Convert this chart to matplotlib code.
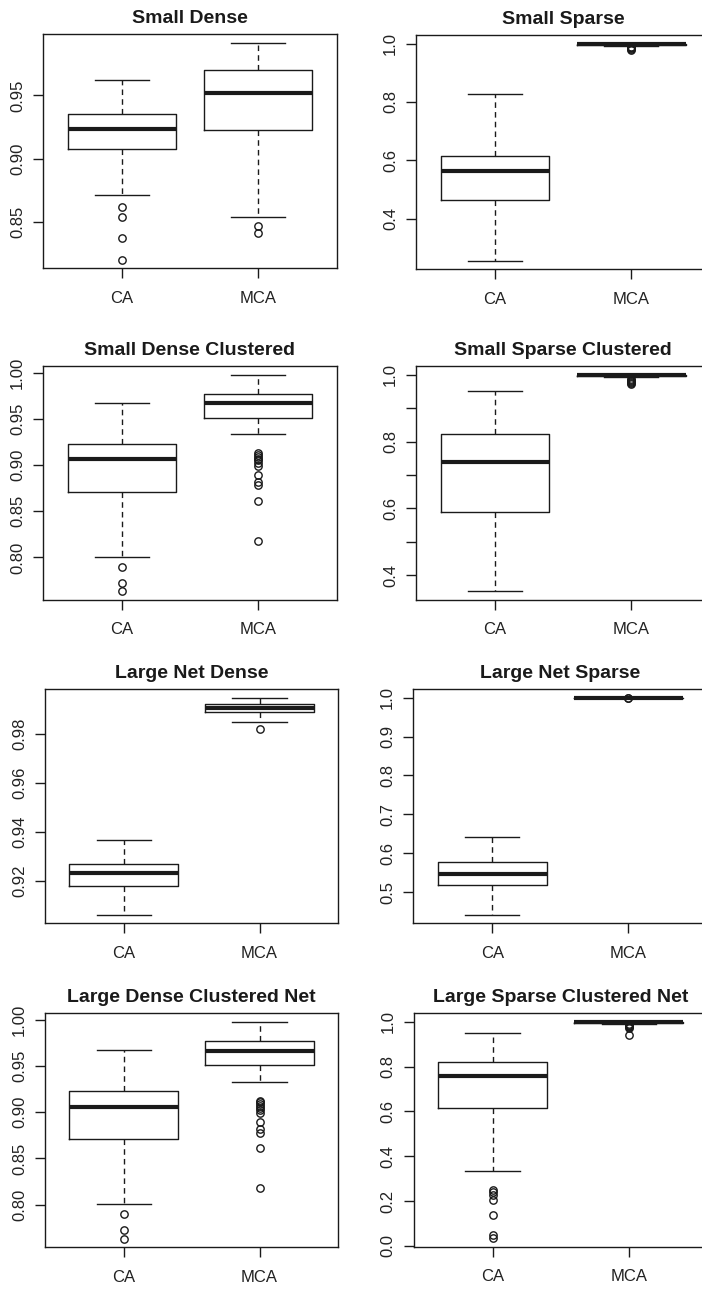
import matplotlib
matplotlib.use("Agg")
import matplotlib.pyplot as plt

plt.rcParams['font.family'] = ['Liberation Sans', 'DejaVu Sans']

W, H = 702, 1289

groups = ["CA", "MCA"]

titles = ["Small Dense", "Small Sparse",
          "Small Dense Clustered", "Small Sparse Clustered",
          "Large Net Dense", "Large Net Sparse",
          "Large Dense Clustered Net", "Large Sparse Clustered Net"]

# five-number summaries: [lower whisker, Q1, median, Q3, upper whisker]
sd_ca = [0.8718, 0.9075, 0.9238, 0.9354, 0.9618]
sd_ca_out = [0.8621, 0.8543, 0.8374, 0.8206]
sd_mca = [0.8545, 0.9230, 0.9516, 0.9697, 0.9913]
sd_mca_out = [0.8473, 0.8418]

ss_ca = [0.2560, 0.4628, 0.5622, 0.6147, 0.8273]
ss_ca_out = []
ss_mca = [0.993, 0.997, 1.0, 1.0, 1.0]
ss_mca_out = [0.990, 0.987, 0.985, 0.982, 0.980]

sdc_ca = [0.8007, 0.8709, 0.9061, 0.9227, 0.9669]
sdc_ca_out = [0.7896, 0.7727, 0.7633]
sdc_mca = [0.9331, 0.9510, 0.9666, 0.9769, 0.9978]
sdc_mca_out = [0.9125, 0.9110, 0.9090, 0.9070, 0.9050, 0.9020, 0.8990,
               0.8889, 0.8820, 0.8780, 0.8612, 0.8180]

ssc_ca = [0.3520, 0.5896, 0.7395, 0.8230, 0.9511]
ssc_ca_out = []
ssc_mca = [0.993, 0.995, 0.999, 1.0, 1.0]
ssc_mca_out = [0.988, 0.985, 0.982, 0.979, 0.976, 0.973]

lnd_ca = [0.9061, 0.9177, 0.9229, 0.9269, 0.9367]
lnd_ca_out = []
lnd_mca = [0.9846, 0.9887, 0.9905, 0.9922, 0.9947]
lnd_mca_out = [0.9819]

lns_ca = [0.4422, 0.5185, 0.5468, 0.5766, 0.6410]
lns_ca_out = []
lns_mca = [1.0, 0.9999, 1.0, 1.0, 1.0]
lns_mca_out = [0.9995, 0.9993]

ldc_ca = [0.8007, 0.8709, 0.9061, 0.9227, 0.9669]
ldc_ca_out = [0.7896, 0.7727, 0.7633]
ldc_mca = [0.9331, 0.9510, 0.9666, 0.9769, 0.9978]
ldc_mca_out = [0.9125, 0.9110, 0.9090, 0.9070, 0.9050, 0.9020, 0.8990,
               0.8889, 0.8820, 0.8780, 0.8612, 0.8180]

lsc_ca = [0.3330, 0.6140, 0.7580, 0.8217, 0.9496]
lsc_ca_out = [0.2497, 0.2390, 0.2250, 0.2050, 0.1380, 0.0500, 0.0340]
lsc_mca = [0.990, 0.996, 0.999, 1.0, 1.0]
lsc_mca_out = [0.988, 0.985, 0.982, 0.979, 0.976, 0.972, 0.942]

panel_stats = [(sd_ca, sd_ca_out, sd_mca, sd_mca_out),
               (ss_ca, ss_ca_out, ss_mca, ss_mca_out),
               (sdc_ca, sdc_ca_out, sdc_mca, sdc_mca_out),
               (ssc_ca, ssc_ca_out, ssc_mca, ssc_mca_out),
               (lnd_ca, lnd_ca_out, lnd_mca, lnd_mca_out),
               (lns_ca, lns_ca_out, lns_mca, lns_mca_out),
               (ldc_ca, ldc_ca_out, ldc_mca, ldc_mca_out),
               (lsc_ca, lsc_ca_out, lsc_mca, lsc_mca_out)]

# y tick positions and labels
yticks = [[0.85, 0.90, 0.95],
          [0.4, 0.6, 0.8, 1.0],
          [0.80, 0.85, 0.90, 0.95, 1.00],
          [0.4, 0.5, 0.6, 0.7, 0.8, 0.9, 1.0],
          [0.92, 0.94, 0.96, 0.98],
          [0.5, 0.6, 0.7, 0.8, 0.9, 1.0],
          [0.80, 0.85, 0.90, 0.95, 1.00],
          [0.0, 0.2, 0.4, 0.6, 0.8, 1.0]]
yticklabels = [["0.85", "0.90", "0.95"],
               ["0.4", "0.6", "0.8", "1.0"],
               ["0.80", "0.85", "0.90", "0.95", "1.00"],
               ["0.4", "", "0.6", "", "0.8", "", "1.0"],
               ["0.92", "0.94", "0.96", "0.98"],
               ["0.5", "0.6", "0.7", "0.8", "0.9", "1.0"],
               ["0.80", "0.85", "0.90", "0.95", "1.00"],
               ["0.0", "0.2", "0.4", "0.6", "0.8", "1.0"]]

# axes boxes in pixels: left, top, right, bottom
boxes = [(43.3, 34.3, 336.7, 268.3), (416, 35, 710, 269.3),
         (43.3, 366, 336.7, 600), (416, 366, 710, 600),
         (45, 689, 338.3, 923.3), (413.3, 689, 707.3, 923.3),
         (45, 1013, 338.3, 1247.3), (413.7, 1013, 707.7, 1247)]

fig = plt.figure(figsize=(W / 100, H / 100), dpi=100)

ink = "#1a1a1a"
for i in range(8):
    l, t, r, b = boxes[i]
    ax = fig.add_axes([l / W, 1 - b / H, (r - l) / W, (b - t) / H])
    ca, ca_out, mca, mca_out = panel_stats[i]
    stats = []
    for name, s, o in ((groups[0], ca, ca_out), (groups[1], mca, mca_out)):
        stats.append(dict(label=name, whislo=s[0], q1=s[1], med=s[2],
                          q3=s[3], whishi=s[4], fliers=o))
    ax.bxp(stats, positions=[1, 2], widths=0.8, capwidths=0.4,
           boxprops=dict(color=ink, linewidth=1.0),
           medianprops=dict(color=ink, linewidth=3.0, solid_capstyle='butt'),
           whiskerprops=dict(color=ink, linewidth=1.0, linestyle=(0, (4, 3))),
           capprops=dict(color=ink, linewidth=1.0),
           flierprops=dict(marker='o', markerfacecolor='none',
                           markeredgecolor=ink, markersize=5.3,
                           markeredgewidth=1.0),
           showfliers=True)
    allv = list(ca) + list(ca_out) + list(mca) + list(mca_out)
    lo, hi = min(allv), max(allv)
    pad = 0.04 * (hi - lo)
    ax.set_ylim(lo - pad, hi + pad)
    ax.set_xlim(0.42, 2.58)
    ax.set_xticks([1, 2])
    ax.set_xticklabels(groups)
    ax.set_yticks(yticks[i])
    ax.set_yticklabels(yticklabels[i], rotation=90, va='center')
    ax.tick_params(axis='both', direction='out', length=7, width=1.0,
                   colors=ink, labelsize=12, labelcolor="#222222")
    ax.tick_params(axis='y', pad=6)
    ax.tick_params(axis='x', pad=9)
    for sp in ax.spines.values():
        sp.set_color(ink)
        sp.set_linewidth(1.0)
    ax.set_title(titles[i], fontsize=14, fontweight='bold', color="#1a1a1a",
                 pad=8)

fig.savefig("out.png", dpi=100)
